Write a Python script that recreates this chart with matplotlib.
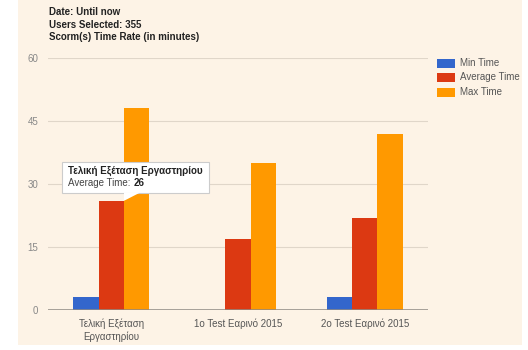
import numpy as np
import matplotlib.pyplot as plt
from matplotlib.patches import Rectangle, Polygon

plt.rcParams['font.family'] = ['Liberation Sans', 'DejaVu Sans']

categories = ['Τελική Εξέταση\nΕργαστηρίου', '1o Test Εαρινό 2015', '2o Test Εαρινό 2015']
series = ['Min Time', 'Average Time', 'Max Time']
min_time = [3, 0, 3]
avg_time = [26, 17, 22]
max_time = [48, 35, 42]
yticks = [0, 15, 30, 45, 60]
header = ['Date: Until now', 'Users Selected: 355', 'Scorm(s) Time Rate (in minutes)']

colors = ['#3366CC', '#DC3912', '#FF9900']
bg = '#FDF3E6'

W, H = 528, 350
fig = plt.figure(figsize=(W / 100, H / 100), dpi=100)
fig.patch.set_facecolor('white')


def px(x, y):
    # pixel position (from top-left) -> figure fraction
    return x / W, 1 - y / H


# cream panel behind everything
fig.patches.append(Rectangle(px(18, 345), 504 / W, 345 / H, transform=fig.transFigure,
                             facecolor=bg, edgecolor='none', zorder=-10))

x0, y0 = px(48, 310)
x1, y1 = px(428, 58)
ax = fig.add_axes([x0, y0, x1 - x0, y1 - y0])
ax.set_facecolor('none')

x = np.arange(len(categories))
w = 0.2
for i, (vals, c) in enumerate(zip([min_time, avg_time, max_time], colors)):
    ax.bar(x + (i - 1) * w, vals, width=w, color=c, label=series[i], zorder=3)

ax.set_xlim(-0.5, 2.5)
ax.set_ylim(0, 60)
ax.set_yticks(yticks)
ax.set_yticklabels([str(t) for t in yticks], color='#888888', fontsize=7)
ax.set_xticks(x)
ax.set_xticklabels(categories, color='#555555', fontsize=7, linespacing=1.3)
ax.tick_params(length=0, pad=7)
ax.tick_params(axis='x', pad=6)
for s in ax.spines.values():
    s.set_visible(False)
ax.grid(axis='y', color='#E0D6C9', linewidth=0.8, zorder=1)
ax.axhline(0, color='#8F8A84', linewidth=1.1, zorder=4)

# header lines
for i, line in enumerate(header):
    fig.text(*px(49, 12 + i * 12.5), line, fontsize=7, fontweight='bold',
             color='#222222', va='center', ha='left')

# legend
for i, (name, c) in enumerate(zip(series, colors)):
    yc = 63 + i * 14.5
    fig.patches.append(Rectangle(px(437, yc + 4.5), 18 / W, 9 / H, transform=fig.transFigure,
                                 facecolor=c, edgecolor='none'))
    fig.text(*px(460, yc), name, fontsize=7, color='#555555', va='center', ha='left')

# tooltip for the average of the first exam, pointing at the top-right corner of its bar
tip_disp = ax.transData.transform((x[0] + w / 2, avg_time[0]))
tip = fig.transFigure.inverted().transform(tip_disp)
box = Rectangle(px(62, 193), 147 / W, 31 / H, transform=fig.transFigure,
                facecolor='white', edgecolor='#CCCCCC', linewidth=0.8, zorder=10)
fig.patches.append(box)
fig.patches.append(Polygon([px(124, 192.6), px(140, 192.6), tip], closed=True,
                           transform=fig.transFigure, facecolor='white',
                           edgecolor='none', zorder=11))
fig.text(*px(68, 171), categories[0].replace('\n', ' '), fontsize=7, fontweight='bold',
         color='#222222', va='center', ha='left', zorder=12)
t = fig.text(*px(68, 183), 'Average Time: ', fontsize=7, color='#444444',
             va='center', ha='left', zorder=12)
fig.canvas.draw()
bb = t.get_window_extent()
fig.text(bb.x1 / W, 1 - 183 / H, str(avg_time[0]), fontsize=7, fontweight='bold',
         color='#222222', va='center', ha='left', zorder=12)

fig.savefig('out.png', dpi=100, facecolor='white')
